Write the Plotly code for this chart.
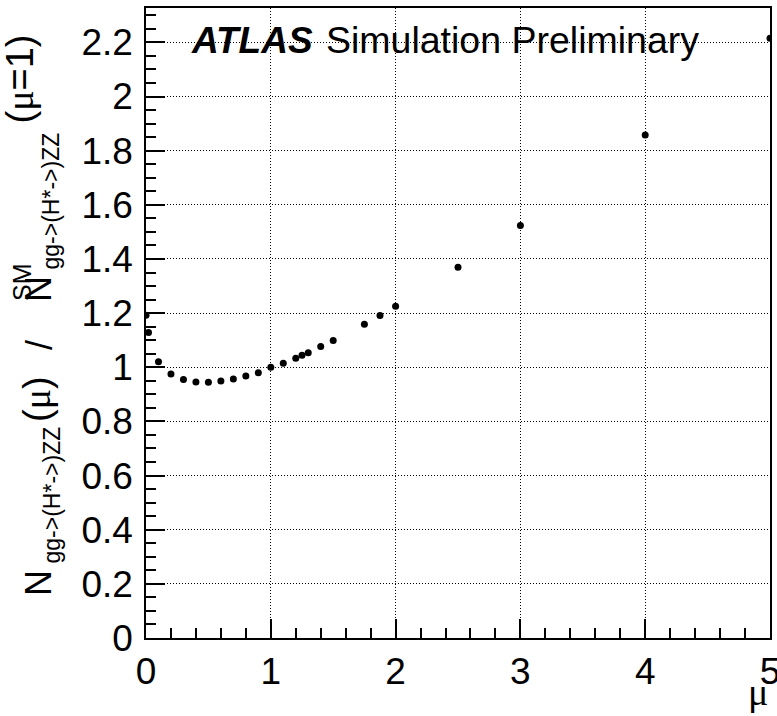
import plotly.graph_objects as go

# Signal-yield ratio vs. the off-shell signal strength mu
mu = [0.0, 0.02, 0.1, 0.2, 0.3, 0.4, 0.5, 0.6, 0.7, 0.8, 0.9, 1.0,
      1.1, 1.2, 1.25, 1.3, 1.4, 1.5, 1.75, 1.875, 2.0, 2.5, 3.0, 4.0, 5.0]
ratio = [1.192, 1.128, 1.020, 0.975, 0.955, 0.946, 0.945, 0.949, 0.957,
         0.968, 0.980, 1.000, 1.015, 1.033, 1.044, 1.054, 1.077, 1.099,
         1.159, 1.191, 1.225, 1.369, 1.524, 1.858, 2.215]

x_ticks = [0, 1, 2, 3, 4, 5]
y_ticks = [0, 0.2, 0.4, 0.6, 0.8, 1, 1.2, 1.4, 1.6, 1.8, 2, 2.2]
y_tick_text = ["0", "0.2", "0.4", "0.6", "0.8", "1", "1.2", "1.4", "1.6", "1.8", "2", "2.2"]

W, H = 777, 716
ML, MR, MT, MB = 146, 7, 8, 78
FONT = "Liberation Sans, Arial, Helvetica, sans-serif"
SERIF = "Liberation Serif, Times New Roman, serif"
PW, PH = W - ML - MR, H - MT - MB


def px(xp):
    return (xp - ML) / PW


def py(yp):
    return (H - MB - yp) / PH


def mu_sym(s):
    return f'<span style="font-family:{SERIF}">{s}</span>'


fig = go.Figure(
    go.Scatter(
        x=mu, y=ratio, mode="markers",
        marker=dict(color="black", size=7, line=dict(width=0)),
        showlegend=False,
    )
)

axis_common = dict(
    showline=True, linecolor="black", linewidth=1.5, mirror=True,
    ticks="inside", tickcolor="black", tickwidth=1.5,
    showgrid=True, gridcolor="black", griddash="1px,2px", gridwidth=1,
    zeroline=False, tickfont=dict(family=FONT, size=37, color="black"),
    ticklabeloverflow="allow", automargin=False,
)

fig.update_xaxes(
    range=[0, 5], tickvals=x_ticks, ticklen=19, ticklabelstandoff=0,
    minor=dict(ticks="inside", ticklen=10, dtick=0.2, tickcolor="black",
               tickwidth=1.5, showgrid=False),
    **axis_common,
)
fig.update_yaxes(
    range=[0, 2.327], tickvals=y_ticks, ticktext=y_tick_text, ticklen=19,
    ticklabelstandoff=4,
    minor=dict(ticks="inside", ticklen=10, dtick=0.05, tickcolor="black",
               tickwidth=1.5, showgrid=False),
    **axis_common,
)

SUB = "gg->(H*->)ZZ"
ann = []


def vtext(text, size, xc, ystart):
    """Vertical (rotated) text piece starting at pixel ystart, centred on pixel column xc."""
    ann.append(dict(
        text=text, textangle=-90, x=px(xc), y=py(ystart),
        xref="paper", yref="paper", xanchor="center", yanchor="bottom",
        showarrow=False, font=dict(family=FONT, size=size, color="black"),
    ))


# y-axis title, read bottom to top
vtext("N", 36, 38, 598)
vtext(SUB, 23, 51, 566)
vtext("(" + mu_sym("μ") + ")", 38, 37, 424)
vtext("/", 36, 39, 352)
vtext("N", 36, 38, 304)
vtext("SM", 25, 22, 303)
vtext(SUB, 23, 51, 272)
vtext("(" + mu_sym("μ") + "=1)", 38, 19, 126)

# x-axis title
ann.append(dict(
    text=mu_sym("μ"), x=1, y=py(715), xref="paper", yref="paper",
    xanchor="right", yanchor="bottom", showarrow=False,
    font=dict(family=FONT, size=38, color="black"),
))
# experiment label
ann.append(dict(
    text="<b><i>ATLAS</i></b>", x=px(189), y=py(40), xref="paper", yref="paper",
    xanchor="left", yanchor="middle", showarrow=False,
    font=dict(family=FONT, size=37, color="black"),
))
ann.append(dict(
    text="Simulation Preliminary", x=px(324), y=py(40), xref="paper", yref="paper",
    xanchor="left", yanchor="middle", showarrow=False,
    font=dict(family=FONT, size=37.5, color="black"),
))

fig.update_layout(
    width=W, height=H,
    margin=dict(l=ML, r=MR, t=MT, b=MB, pad=0, autoexpand=False),
    paper_bgcolor="white", plot_bgcolor="white",
    annotations=ann,
)

fig.write_html("out.html")
